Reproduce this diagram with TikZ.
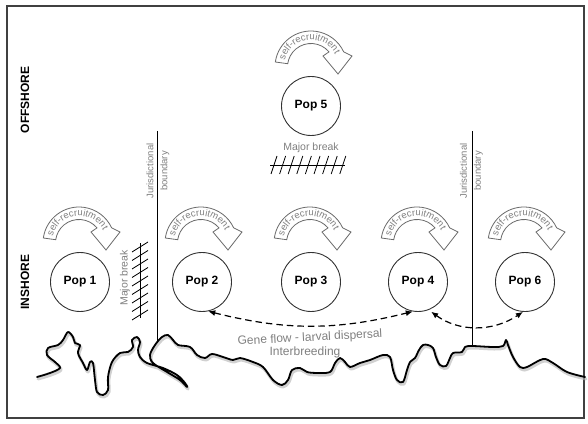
\documentclass[tikz,border=0pt]{standalone}
\usepackage{fontspec}
\setmainfont{Liberation Sans}
\usetikzlibrary{arrows.meta,decorations.text}
\definecolor{txtgray}{HTML}{7F7F7F}
\definecolor{bandgray}{HTML}{6A6A6A}
\definecolor{circgray}{HTML}{333333}
\newcommand\SelfRecArrow[1]{%
 \begin{scope}[shift={#1}]
  \filldraw[band] (172:36) arc[start angle=172,end angle=25,radius=36] -- (41,11) -- (27,-7) -- (12,11) -- (40:23.5) arc[start angle=40,end angle=172,radius=23.5] -- cycle;
  \path[decorate, decoration={text along path, text color=txtgray, text align=center, text={|\fontsize{9.5}{10}\selectfont|self-recruitment}}] (169:27.2) arc[start angle=169,end angle=24,radius=27.2];
 \end{scope}}
\begin{document}
\begin{tikzpicture}[x=1pt,y=1pt,
  pop/.style={circle, draw=circgray, line width=0.9pt, fill=white, minimum size=59pt, inner sep=0pt, font=\fontsize{12}{14}\selectfont\bfseries},
  band/.style={draw=bandgray, line width=0.8pt, fill=white, line join=miter},
  lbl/.style={text=txtgray, font=\fontsize{10.5}{12}\selectfont, inner sep=0pt},
  jlbl/.style={text=txtgray, font=\fontsize{9.5}{11}\selectfont, inner sep=0pt, rotate=90},
  region/.style={font=\fontsize{12}{14}\selectfont\bfseries, rotate=90, inner sep=0pt},
  gene/.style={dash pattern=on 6.5pt off 4pt, line width=1.2pt, {Latex[length=7pt,width=6pt]}-{Latex[length=7pt,width=6pt]}},
  boundary/.style={line width=1pt},
  hatch/.style={line width=0.8pt},
  coast/.style={line width=1.8pt, line join=round, line cap=round}]

\useasboundingbox (0,0) rectangle (588,423);
\draw[line width=1.2pt, draw=black!75] (7,5) rectangle (584,417);

% region labels
\node[region] (off) at (25,323) {OFFSHORE};
\node[region] (ins) at (25,141) {INSHORE};

% coastline
\begin{scope}[shift={(0,423)}, yscale=-1]
 \draw[coast, draw=black!30, line width=3pt, opacity=0.6, shift={(1,2)}] plot[smooth,tension=0.55] coordinates {(37,377) (50,373) (60,368) (55,362) (47,355) (48,348) (58,345) (63,340) (68,332) (73,337) (75,343) (80,345) (78,353) (83,363) (87,370) (90,362) (93,363) (95,380) (97,392) (103,395) (108,390) (108,377) (112,362) (120,353) (128,352) (133,347) (132,340) (137,337) (140,342) (138,350) (140,357) (147,363) (163,368) (177,375) (185,383) (187,387) (180,380) (167,372) (153,363) (150,355) (155,345) (162,337) (168,335) (173,340) (178,345) (190,347) (197,355) (205,358) (212,354) (223,357) (233,360) (240,358) (253,362) (263,367) (273,380) (282,385) (288,380) (292,370) (300,368) (307,372) (317,373) (330,372) (335,363) (340,358) (345,362) (350,367) (360,363) (370,360) (383,355) (390,357) (393,370) (397,380) (403,382) (407,370) (410,362) (415,358) (419,350) (423,345) (428,345) (433,348) (436,357) (440,365) (446,366) (450,358) (453,353) (462,352) (465,347) (472,346) (493,347) (503,346) (506,340) (508,345) (513,357) (520,367) (527,367) (543,359) (553,363) (567,372) (585,377)};
 \draw[coast] plot[smooth,tension=0.55] coordinates {(37,377) (50,373) (60,368) (55,362) (47,355) (48,348) (58,345) (63,340) (68,332) (73,337) (75,343) (80,345) (78,353) (83,363) (87,370) (90,362) (93,363) (95,380) (97,392) (103,395) (108,390) (108,377) (112,362) (120,353) (128,352) (133,347) (132,340) (137,337) (140,342) (138,350) (140,357) (147,363) (163,368) (177,375) (185,383) (187,387) (180,380) (167,372) (153,363) (150,355) (155,345) (162,337) (168,335) (173,340) (178,345) (190,347) (197,355) (205,358) (212,354) (223,357) (233,360) (240,358) (253,362) (263,367) (273,380) (282,385) (288,380) (292,370) (300,368) (307,372) (317,373) (330,372) (335,363) (340,358) (345,362) (350,367) (360,363) (370,360) (383,355) (390,357) (393,370) (397,380) (403,382) (407,370) (410,362) (415,358) (419,350) (423,345) (428,345) (433,348) (436,357) (440,365) (446,366) (450,358) (453,353) (462,352) (465,347) (472,346) (493,347) (503,346) (506,340) (508,345) (513,357) (520,367) (527,367) (543,359) (553,363) (567,372) (585,377)};
\end{scope}

% jurisdictional boundaries
\coordinate (b1top) at (157.5,292);
\coordinate (b1bot) at (157.5,80);
\coordinate (b2top) at (472,292);
\coordinate (b2bot) at (472,77);
\draw[boundary] (b1top) -- (b1bot);
\draw[boundary] (b2top) -- (b2bot);
\node[jlbl] (j1a) at (150,252) {Jurisdictional};
\node[jlbl] (j1b) at (165,252) {boundary};
\node[jlbl] (j2a) at (463.5,252) {Jurisdictional};
\node[jlbl] (j2b) at (478.5,252) {boundary};

% populations
\node[pop] (pop1) at (80,141) {Pop 1};
\node[pop] (pop2) at (202,141) {Pop 2};
\node[pop] (pop3) at (311,141) {Pop 3};
\node[pop] (pop4) at (418,141) {Pop 4};
\node[pop] (pop6) at (525,141) {Pop 6};
\node[pop] (pop5) at (311,317) {Pop 5};

% self-recruitment arrows
\SelfRecArrow{(79,180)}
\SelfRecArrow{(201,180)}
\SelfRecArrow{(310,180)}
\SelfRecArrow{(417,180)}
\SelfRecArrow{(524,180)}
\SelfRecArrow{(311,356)}

% major breaks
\node[lbl] (mb5) at (311,275) {Major break};
\draw[hatch] (270,258) -- (345,258);
\foreach \i in {0,...,8} \draw[hatch] (271+\i*8.6,249) -- (277+\i*8.6,267);
\node[lbl, rotate=90] (mb1) at (125,145) {Major break};
\draw[hatch] (140,105) -- (140,180);
\foreach \i in {0,...,8} \draw[hatch] (132,103+\i*8.5) -- (148,113+\i*8.5);

% gene flow
\draw[gene] (pop2.-78) to[bend right=14] (pop4.-100);
\draw[gene, shorten <=3pt] (pop4.-69) to[bend right=35] (pop6.-94);
\node[text=txtgray, font=\fontsize{12}{14}\selectfont, inner sep=0pt, rotate=3] (gf) at (310,85) {Gene flow - larval dispersal};
\node[text=txtgray, font=\fontsize{12}{14}\selectfont, inner sep=0pt] (ib) at (305,71) {Interbreeding};
\end{tikzpicture}
\end{document}
